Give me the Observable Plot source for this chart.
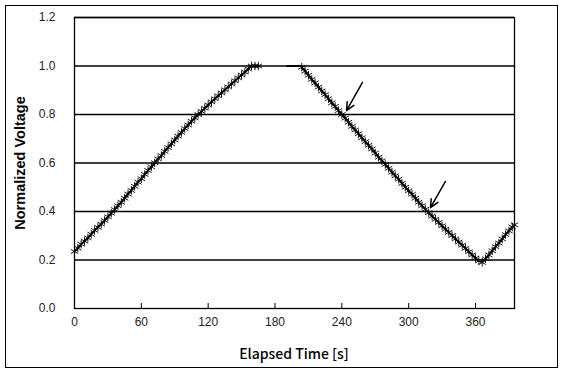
<!DOCTYPE html>
<html>
<head>
<meta charset="utf-8">
<script src="https://cdn.jsdelivr.net/npm/d3@7"></script>
<script src="https://cdn.jsdelivr.net/npm/@observablehq/plot@0.6"></script>
<style>
  html, body { margin: 0; padding: 0; background: #fff; }
  #wrap { position: relative; width: 567px; height: 378px; }
  #frame { position: absolute; left: 5px; top: 5px; width: 553px; height: 363px; border: 1.5px solid #000; box-sizing: border-box; pointer-events: none; }
</style>
</head>
<body>
<div id="wrap"><div id="frame"></div></div>
<script>
// Rising sweep (time s, normalized voltage)
const riseTime = [0,3,6,9,12,15,18,21,24,27,30,33,36,39,42,45,48,51,54,57,60,63,66,69,72,75,78,81,84,87,90,93,96,99,102,105,108,111,114,117,120,123,126,129,132,135,138,141,144,147,150,153,156,159,162,165];
const riseVolt = [0.235,0.249,0.265,0.278,0.291,0.306,0.322,0.335,0.348,0.363,0.378,0.393,0.408,0.424,0.438,0.455,0.472,0.487,0.504,0.521,0.535,0.553,0.569,0.584,0.601,0.617,0.631,0.648,0.664,0.679,0.695,0.711,0.726,0.742,0.757,0.772,0.786,0.800,0.813,0.826,0.839,0.852,0.865,0.877,0.889,0.902,0.914,0.926,0.939,0.951,0.963,0.975,0.988,1.0,1.0,1.0];
// Short hold segment
const holdTime = [191,203];
const holdVolt = [1.0,1.0];
// Falling sweep and final rise
const fallTime = [204,207,210,213,216,219,222,225,228,231,234,237,240,243,246,249,252,255,258,261,264,267,270,273,276,279,282,285,288,291,294,297,300,303,306,309,312,315,318,321,324,327,330,333,336,339,342,345,348,351,354,357,360,363,366,369,372,375,378,381,384,387,390,393,395];
const fallVolt = [0.995,0.979,0.962,0.945,0.930,0.913,0.897,0.882,0.865,0.848,0.833,0.816,0.800,0.785,0.768,0.751,0.736,0.721,0.704,0.688,0.673,0.658,0.641,0.624,0.609,0.594,0.578,0.562,0.547,0.533,0.516,0.500,0.485,0.471,0.455,0.438,0.424,0.409,0.395,0.381,0.368,0.355,0.341,0.327,0.314,0.301,0.287,0.274,0.261,0.248,0.234,0.221,0.208,0.197,0.190,0.205,0.221,0.238,0.255,0.270,0.287,0.305,0.320,0.336,0.345];
// Annotation arrows: start (time, volt) -> tip (time, volt)
const arrowX1 = [258.5, 333];
const arrowY1 = [0.932, 0.524];
const arrowX2 = [244.2, 319.6];
const arrowY2 = [0.816, 0.416];

const xTicks = [0,60,120,180,240,300,360];
const yTicks = [0.0,0.2,0.4,0.6,0.8,1.0,1.2];

const rise = riseTime.map((t,i) => ({t, v: riseVolt[i]}));
const hold = holdTime.map((t,i) => ({t, v: holdVolt[i]}));
const fall = fallTime.map((t,i) => ({t, v: fallVolt[i]}));
const arrows = arrowX1.map((x,i) => ({x1: x, y1: arrowY1[i], x2: arrowX2[i], y2: arrowY2[i]}));

const chart = Plot.plot({
  width: 567,
  height: 378,
  marginLeft: 74,
  marginRight: 53,
  marginTop: 17,
  marginBottom: 70,
  style: {fontFamily: "'Liberation Sans', Arial, sans-serif", fontSize: "12px", background: "transparent", color: "#000"},
  x: {domain: [0, 395]},
  y: {domain: [0, 1.2]},
  marks: [
    Plot.ruleY(yTicks.filter(d => d > 0), {stroke: "#000", strokeWidth: 1.3}),
    Plot.axisY({ticks: yTicks, tickFormat: d3.format(".1f"), tickSize: 0, tickPadding: 19, label: null, fontSize: 12, fill: "#222"}),
    Plot.axisX({ticks: xTicks, tickSize: -5, tickPadding: 14, label: null, fontSize: 12, fill: "#222", stroke: "#000"}),
    Plot.lineY(rise, {x: "t", y: "v", stroke: "#000", strokeWidth: 1.6}),
    Plot.dot(rise, {x: "t", y: "v", symbol: "asterisk", r: 4, stroke: "#000", strokeWidth: 0.9}),
    Plot.lineY(hold, {x: "t", y: "v", stroke: "#000", strokeWidth: 2}),
    Plot.lineY(fall, {x: "t", y: "v", stroke: "#000", strokeWidth: 1.6}),
    Plot.dot(fall, {x: "t", y: "v", symbol: "asterisk", r: 4, stroke: "#000", strokeWidth: 0.9}),
    Plot.arrow(arrows, {x1: "x1", y1: "y1", x2: "x2", y2: "y2", stroke: "#000", strokeWidth: 1.5, headLength: 9, headAngle: 50}),
    Plot.frame({stroke: "#000", strokeWidth: 1.3})
  ]
});

const svg = d3.select(chart);
svg.append("text")
  .attr("x", 294).attr("y", 359)
  .attr("text-anchor", "middle")
  .style("font-family", "'Noto Sans CJK KR', 'Noto Sans', sans-serif")
  .style("font-size", "14px")
  .style("font-weight", "500")
  .text("Elapsed Time [s]");
svg.append("text")
  .attr("transform", "translate(25,163) rotate(-90)")
  .attr("text-anchor", "middle")
  .style("font-family", "'Liberation Sans', Arial, sans-serif")
  .style("font-size", "14.5px")
  .style("font-weight", "bold")
  .text("Normalized Voltage");

chart.style.position = "absolute";
chart.style.left = "0";
chart.style.top = "0";
document.getElementById("wrap").prepend(chart);
</script>
</body>
</html>
